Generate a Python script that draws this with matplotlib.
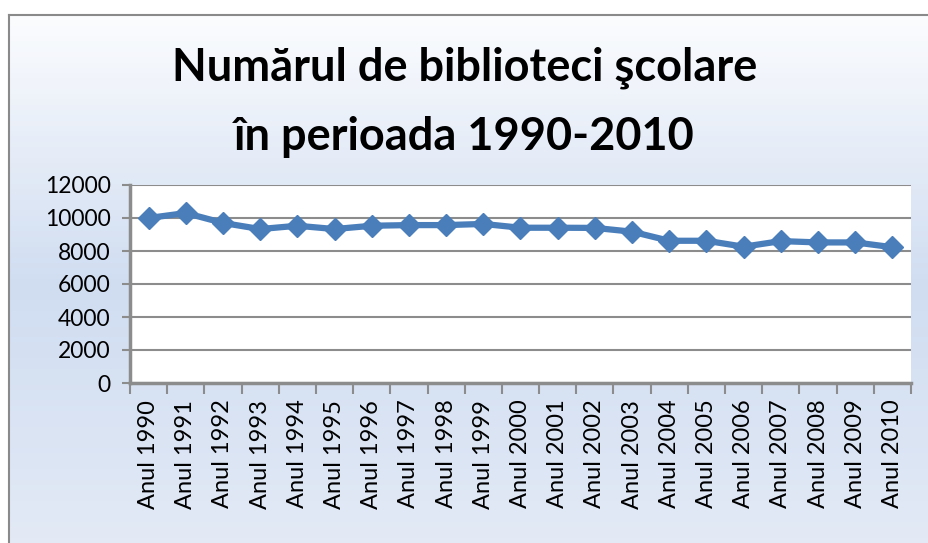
import numpy as np
import matplotlib.pyplot as plt
from matplotlib.colors import LinearSegmentedColormap

# date
ani = ['Anul %d' % a for a in range(1990, 2011)]
biblioteci = [10000, 10300, 9700, 9330, 9530, 9330, 9530, 9570, 9570, 9640,
              9410, 9410, 9400, 9170, 8620, 8620, 8260, 8600, 8520, 8520, 8230]
yticks = [0, 2000, 4000, 6000, 8000, 10000, 12000]

plt.rcParams['font.family'] = ['Lato', 'DejaVu Sans']

fig = plt.figure(figsize=(9.29, 5.43), dpi=100)

# fundal cu gradient (alb sus, albastru deschis jos)
bg = fig.add_axes([9/929, 0, 1 - 9/929, 1 - 15/543], zorder=-10)
cmap = LinearSegmentedColormap.from_list('g', ['#fbfcfe', '#d0ddf1', '#e3eaf6'])
grad = np.concatenate([np.linspace(0, 0.78, 80), np.linspace(0.78, 1, 20)])[:, None]
bg.imshow(grad, aspect='auto', cmap=cmap, extent=[0, 1, 0, 1], vmin=0, vmax=1)
bg.set_xticks([])
bg.set_yticks([])
for s in ['right', 'bottom']:
    bg.spines[s].set_visible(False)
for s in ['left', 'top']:
    bg.spines[s].set_color('#8a8a8a')
    bg.spines[s].set_linewidth(1.5)

ax = fig.add_axes([130/929, 1 - 383/543, (911 - 130)/929, (383 - 185)/543])
ax.set_facecolor('white')
x = np.arange(len(ani)) + 0.5
ax.plot(x, biblioteci, color='#4a7ebb', linewidth=4.5, marker='D',
        markersize=11, zorder=3, clip_on=False)

ax.set_xlim(0, len(ani))
ax.set_ylim(0, 12000)
ax.set_yticks(yticks)
ax.set_yticklabels([str(v) for v in yticks], fontsize=16.5)
ax.yaxis.grid(True, color='#8c8c8c', linewidth=1.5)
ax.set_axisbelow(True)

ax.set_xticks(np.arange(len(ani) + 1))
ax.set_xticklabels([])
ax.set_xticks(x, minor=True)
ax.set_xticklabels(ani, minor=True, rotation=90, fontsize=17)
ax.tick_params(axis='x', which='minor', length=0, pad=12)
ax.tick_params(axis='x', which='major', length=8, width=1.5, color='#8c8c8c')
ax.tick_params(axis='y', length=6, width=1.5, color='#8c8c8c', pad=8)

for s in ['top', 'right']:
    ax.spines[s].set_visible(False)
for s in ['left', 'bottom']:
    ax.spines[s].set_color('#8c8c8c')
    ax.spines[s].set_linewidth(2.5)

fig.text(0.5, 1 - 68/543, 'Numărul de biblioteci şcolare', ha='center', va='center',
         fontsize=32.5, fontweight='bold')
fig.text(0.5, 1 - 137/543, 'în perioada 1990-2010', ha='center', va='center',
         fontsize=32.5, fontweight='bold')

fig.savefig('out.png', dpi=100)
